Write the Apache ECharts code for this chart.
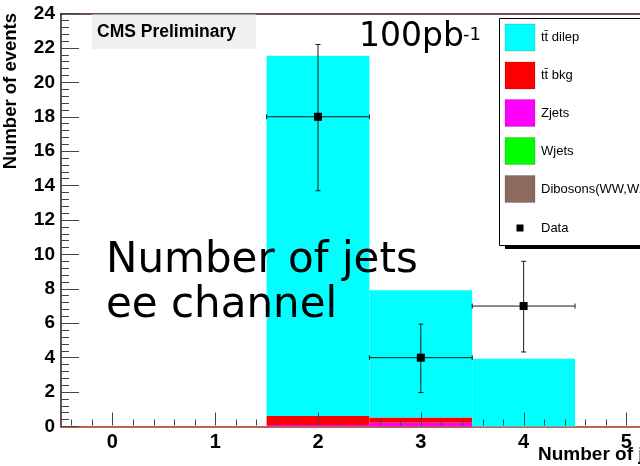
<!DOCTYPE html>
<html>
<head>
<meta charset="utf-8">
<script src="https://cdn.jsdelivr.net/npm/echarts@6/dist/echarts.min.js"></script>
<style>
  html, body { margin: 0; padding: 0; background: #fff; }
  #chart { width: 640px; height: 466px; }
</style>
</head>
<body>
<div id="chart"></div>
<script>
// Jet multiplicity bins (bin centres)
const jetBins = [2, 3, 4];

// Stacked expectations per bin (bottom to top of the stack)
const dibosons = [0.02, 0.02, 0.0];
const wJets    = [0.0, 0.0, 0.0];
const zJets    = [0.06, 0.2, 0.0];
const ttBkg    = [0.53, 0.31, 0.0];
const ttDilep  = [20.94, 7.39, 3.93];

// Observed data with asymmetric errors
const dataCounts = [18, 4, 7];
const dataErrLow = [4.3, 2.03, 2.67];
const dataErrHigh = [4.2, 1.95, 2.6];

// x-axis tick positions (ROOT-style frame ticks)
const xMajorTicks = [0, 1, 2, 3, 4, 5];
const xMinorTicks = [-0.4, -0.2, 0.2, 0.4, 0.6, 0.8, 1.2, 1.4, 1.6, 1.8, 2.2, 2.4, 2.6, 2.8,
                     3.2, 3.4, 3.6, 3.8, 4.2, 4.4, 4.6, 4.8];

// Legend entries (top to bottom)
const legendNames = ['tt\u0304 dilep', 'tt\u0304 bkg', 'Zjets', 'Wjets', 'Dibosons(WW,WZ,ZZ)', 'Data'];
const legendColors = ['#00ffff', '#ff0000', '#ff00ff', '#00ff00', '#8c6a5c', null];

const stackOrder = [
  { name: 'Dibosons(WW,WZ,ZZ)', values: dibosons, color: '#8c6a5c' },
  { name: 'Wjets', values: wJets, color: '#00ff00' },
  { name: 'Zjets', values: zJets, color: '#ff00ff' },
  { name: 'tt\u0304 bkg', values: ttBkg, color: '#ff0000' },
  { name: 'tt\u0304 dilep', values: ttDilep, color: '#00ffff' }
];

// Visible part of the x range (the frame continues past the right edge)
const xMin = -0.5;
const xMax = 5.132;

const chart = echarts.init(document.getElementById('chart'), null, { renderer: 'canvas' });

// Build cumulative [x, base, top] rows for each stacked component
const running = jetBins.map(() => 0);
const stackSeries = stackOrder.map(comp => {
  const rows = jetBins.map((x, i) => {
    const base = running[i];
    const top = base + comp.values[i];
    running[i] = top;
    return [x, base, top];
  }).filter(r => r[2] > r[1]);
  return {
    name: comp.name,
    type: 'custom',
    z: 2,
    silent: true,
    encode: { x: 0, y: [1, 2] },
    data: rows,
    renderItem: function (params, api) {
      const x = api.value(0);
      const p0 = api.coord([x - 0.5, api.value(1)]);
      const p1 = api.coord([x + 0.5, api.value(2)]);
      return {
        type: 'rect',
        shape: { x: p0[0], y: p1[1], width: p1[0] - p0[0], height: p0[1] - p1[1] },
        style: { fill: comp.color }
      };
    }
  };
});

const dataRows = jetBins.map((x, i) => [x, dataCounts[i], dataCounts[i] - dataErrLow[i], dataCounts[i] + dataErrHigh[i]]);

const dataSeries = {
  name: 'Data',
  type: 'custom',
  z: 5,
  silent: true,
  encode: { x: 0, y: [1, 2, 3] },
  data: dataRows,
  renderItem: function (params, api) {
    const x = api.value(0);
    const c = api.coord([x, api.value(1)]);
    const lo = api.coord([x, api.value(2)]);
    const hi = api.coord([x, api.value(3)]);
    const left = api.coord([x - 0.5, api.value(1)]);
    const right = api.coord([x + 0.5, api.value(1)]);
    const cap = 2.5;
    const ls = { stroke: '#1a1a1a', lineWidth: 1 };
    const m = 4;
    return {
      type: 'group',
      children: [
        { type: 'line', shape: { x1: c[0], y1: lo[1], x2: c[0], y2: hi[1] }, style: ls },
        { type: 'line', shape: { x1: c[0] - cap, y1: lo[1], x2: c[0] + cap, y2: lo[1] }, style: ls },
        { type: 'line', shape: { x1: c[0] - cap, y1: hi[1], x2: c[0] + cap, y2: hi[1] }, style: ls },
        { type: 'line', shape: { x1: left[0], y1: c[1], x2: right[0], y2: c[1] }, style: ls },
        { type: 'line', shape: { x1: left[0], y1: c[1] - cap, x2: left[0], y2: c[1] + cap }, style: ls },
        { type: 'line', shape: { x1: right[0], y1: c[1] - cap, x2: right[0], y2: c[1] + cap }, style: ls },
        { type: 'rect', shape: { x: c[0] - m, y: c[1] - m, width: 2 * m, height: 2 * m }, style: { fill: '#000' } }
      ]
    };
  }
};

// Frame ticks on the x axis, drawn over the histogram like ROOT does
const tickRows = xMajorTicks.map(v => [v, 0, 13]).concat(xMinorTicks.map(v => [v, 0, 6]));
const xTickSeries = {
  name: 'xticks',
  type: 'custom',
  z: 20,
  silent: true,
  clip: false,
  encode: { x: 0, y: 1 },
  dimensions: ['pos', 'base', 'len'],
  data: tickRows,
  renderItem: function (params, api) {
    const p = api.coord([api.value(0), api.value(1)]);
    const len = api.value(2);
    return {
      type: 'rect',
      shape: { x: Math.round(p[0]), y: p[1] - len - 1, width: 1, height: len },
      style: { fill: '#444' }
    };
  }
};

// Legend drawn as a ROOT-style box with a drop shadow
const legendGraphics = [
  { type: 'rect', shape: { x: 505, y: 244, width: 200, height: 5 }, style: { fill: '#000' }, z: 20 },
  { type: 'rect', shape: { x: 499.5, y: 18.5, width: 200, height: 227 }, style: { fill: '#fff', stroke: '#000', lineWidth: 1 }, z: 21 }
];
const entryCentres = [37.5, 75.5, 113, 151, 189, 228];
legendNames.forEach((name, i) => {
  const cy = entryCentres[i];
  if (legendColors[i]) {
    legendGraphics.push({
      type: 'rect', z: 22,
      shape: { x: 505, y: cy - 13.5, width: 30, height: 27 },
      style: { fill: legendColors[i], stroke: 'rgba(0,0,0,0.15)', lineWidth: 1 }
    });
  } else {
    legendGraphics.push({
      type: 'rect', z: 22,
      shape: { x: 516.5, y: cy - 3.5, width: 7, height: 7 },
      style: { fill: '#000' }
    });
  }
  legendGraphics.push({
    type: 'text', z: 22, x: 541, y: cy,
    style: { text: name, font: '13px "Liberation Sans", Arial, sans-serif', fill: '#000', textVerticalAlign: 'middle' }
  });
});

const option = {
  animation: false,
  backgroundColor: '#fff',
  grid: {
    left: 61, top: 13.5, right: 0, bottom: 39.5,
    outerBoundsMode: 'none',
    containLabel: false
  },
  xAxis: [{
    type: 'value',
    position: 'bottom',
    min: xMin, max: xMax, splitNumber: 6,
    axisLine: { show: true, onZero: false, lineStyle: { color: '#c0604e', width: 2 } },
    axisTick: { show: false },
    minorTick: { show: false },
    splitLine: { show: false },
    minorSplitLine: { show: false },
    axisLabel: {
      margin: 6,
      showMinLabel: false, showMaxLabel: false,
      color: '#000',
      fontFamily: '"Liberation Sans", Arial, sans-serif',
      fontWeight: 'bold', fontSize: 20,
      formatter: v => (Number.isInteger(v) ? String(v) : '')
    }
  }, {
    // top frame edge
    type: 'value',
    position: 'top',
    min: xMin, max: xMax,
    axisLine: { show: true, onZero: false, lineStyle: { color: '#3a1c1c', width: 1.5 } },
    axisTick: { show: false },
    minorTick: { show: false },
    splitLine: { show: false },
    axisLabel: { show: false }
  }],
  yAxis: {
    type: 'value',
    min: 0, max: 24, interval: 2,
    z: 10,
    axisLine: { show: true, onZero: false, lineStyle: { color: '#301818', width: 1.5 } },
    axisTick: { show: true, inside: true, length: 18, lineStyle: { color: '#444', width: 1 } },
    minorTick: { show: true, splitNumber: 5, length: 8, lineStyle: { color: '#444', width: 1 } },
    splitLine: { show: false },
    minorSplitLine: { show: false },
    axisLabel: {
      margin: 6,
      color: '#000',
      fontFamily: '"Liberation Sans", Arial, sans-serif',
      fontWeight: 'bold', fontSize: 19
    }
  },
  series: stackSeries.concat([dataSeries, xTickSeries]),
  graphic: [
    // CMS label box
    { type: 'rect', shape: { x: 92, y: 14.5, width: 164, height: 34.5 }, style: { fill: '#f0f0f0' }, z: 15 },
    { type: 'text', x: 97, y: 32, z: 16,
      style: { text: 'CMS Preliminary', font: 'bold 17.5px "Liberation Sans", Arial, sans-serif', fill: '#000', textVerticalAlign: 'middle' } },
    // Luminosity
    { type: 'text', x: 359, y: 54, z: 16,
      style: { text: '100pb', font: '33px "DejaVu Sans", sans-serif', fill: '#000', textVerticalAlign: 'bottom' } },
    { type: 'text', x: 463, y: 26, z: 16,
      style: { text: '-1', font: '18px "DejaVu Sans", sans-serif', fill: '#000', textVerticalAlign: 'top' } },
    // Channel description
    { type: 'text', x: 106, y: 282, z: 16,
      style: { text: 'Number of jets', font: '42px "DejaVu Sans", sans-serif', fill: '#000', textVerticalAlign: 'bottom' } },
    { type: 'text', x: 106, y: 327, z: 16,
      style: { text: 'ee channel', font: '42px "DejaVu Sans", sans-serif', fill: '#000', textVerticalAlign: 'bottom' } },
    // Axis titles
    { type: 'text', x: 538, y: 464, z: 16,
      style: { text: 'Number of jets', font: 'bold 19px "Liberation Sans", Arial, sans-serif', fill: '#000', textVerticalAlign: 'bottom' } },
    { type: 'text', x: 11, y: 13, rotation: Math.PI / 2, z: 16,
      style: { text: 'Number of events', font: 'bold 18.5px "Liberation Sans", Arial, sans-serif', fill: '#000', align: 'right', textVerticalAlign: 'middle' } }
  ].concat(legendGraphics)
};

chart.setOption(option);
</script>
</body>
</html>
